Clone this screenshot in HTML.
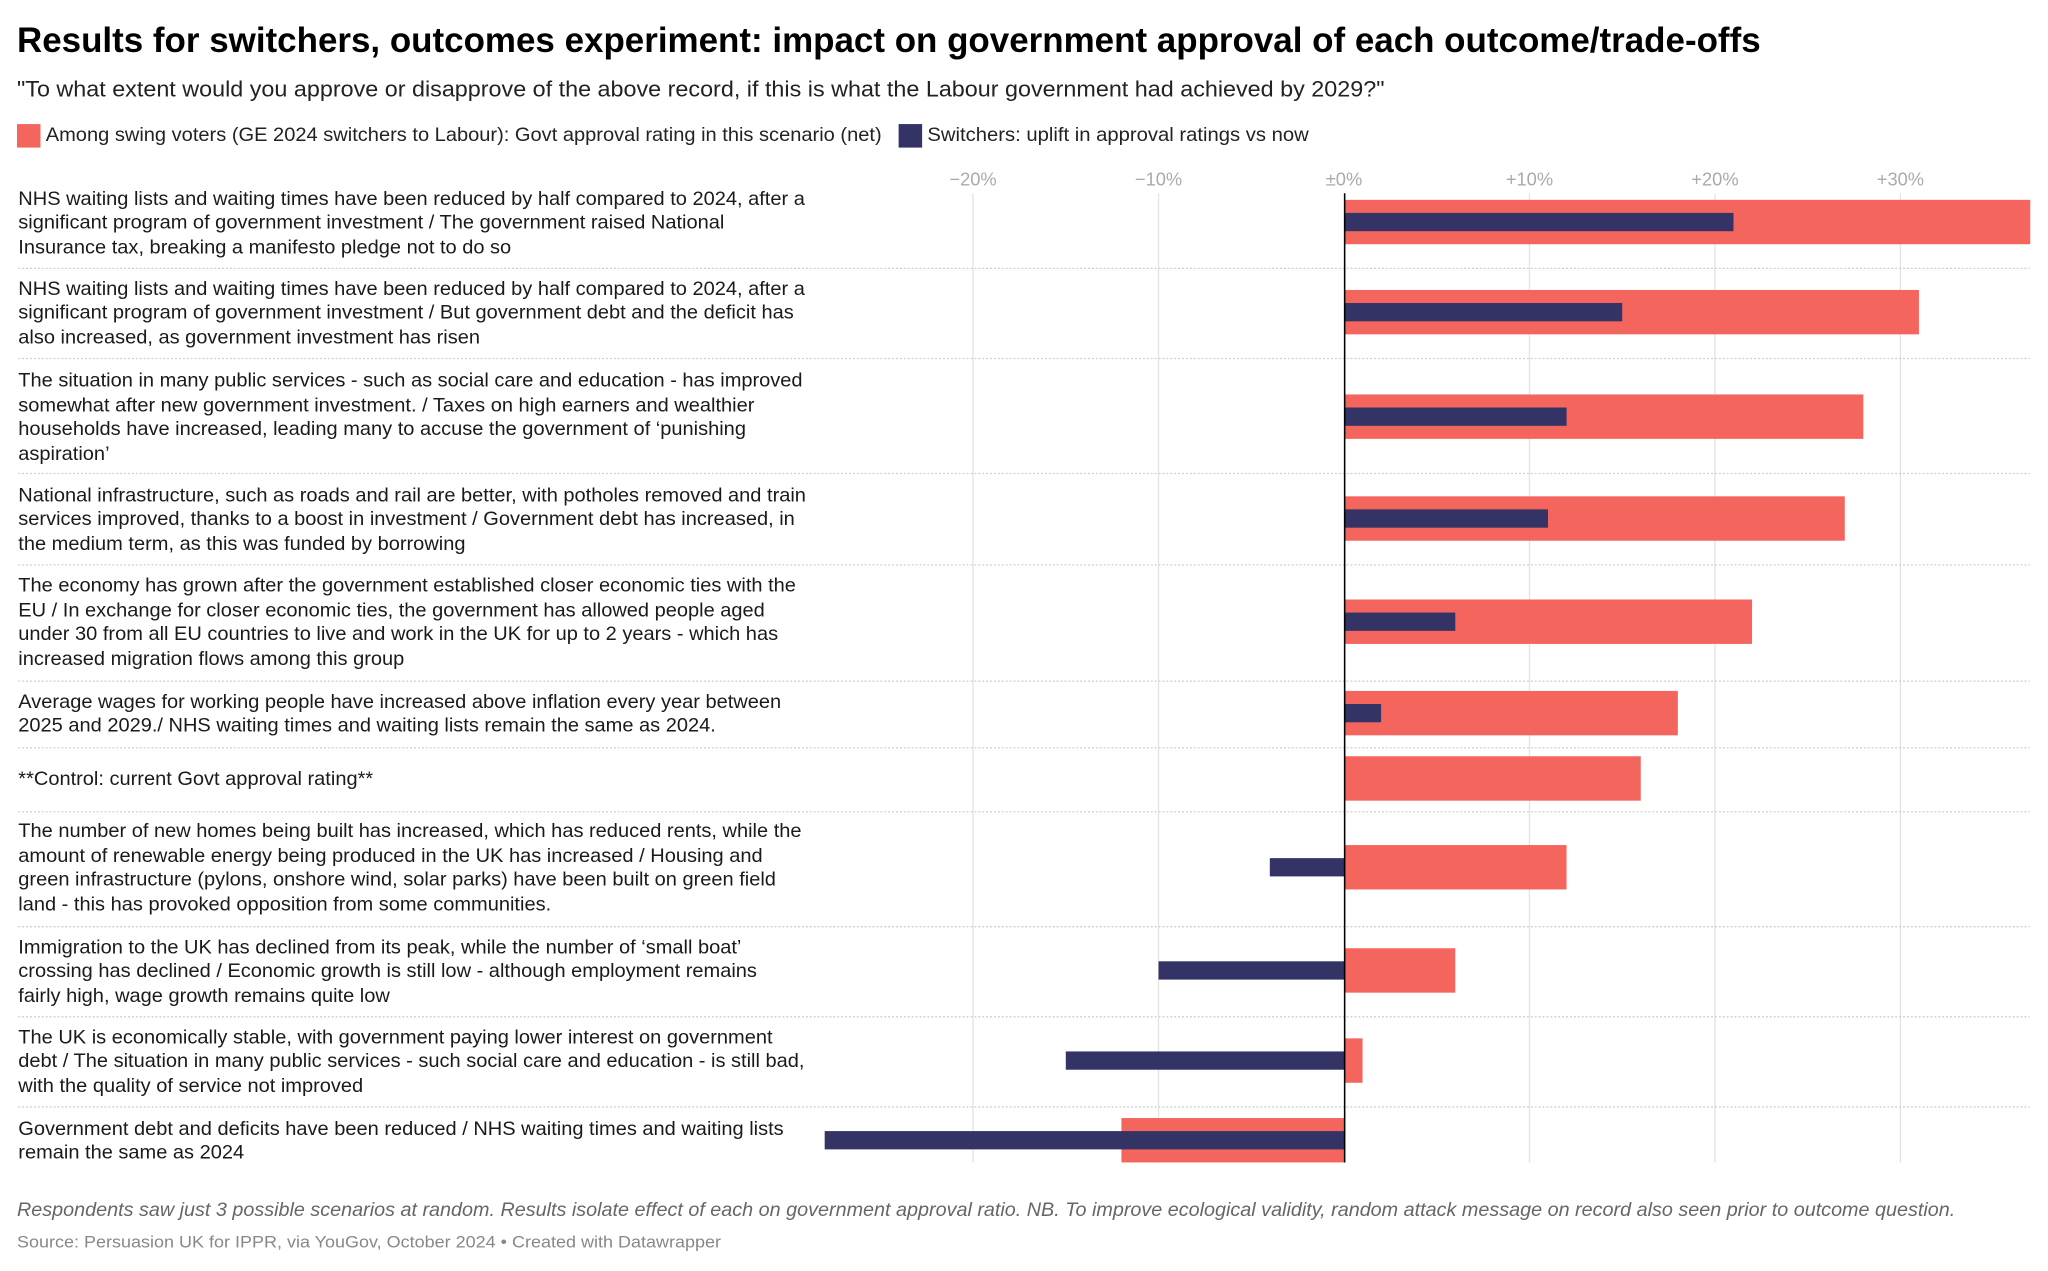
<!DOCTYPE html>
<html><head><meta charset="utf-8">
<style>
html,body{margin:0;padding:0;background:#fff;}
body{width:2048px;height:1271px;overflow:hidden;font-family:"Liberation Sans",Arial,sans-serif;}
#wrap{position:absolute;left:0;top:0;width:1568px;height:973px;transform:scale(1.306122);transform-origin:0 0;}
.abs{position:absolute;white-space:nowrap;}
.fit{transform-origin:0 50%;}
#title{left:13px;top:16px;font-size:27px;font-weight:bold;color:#000;}
#subtitle{left:13px;top:59px;font-size:17px;color:#222;}
.leg{top:95px;font-size:15px;color:#222;}
.sw{position:absolute;width:18px;height:18px;top:95px;}
.lbl{position:absolute;left:14px;font-size:14.6px;line-height:18.6px;color:#1a1a1a;white-space:nowrap;transform:scaleX(1.05);transform-origin:0 50%;}
.tick{position:absolute;top:129px;font-size:14px;color:#aaa;transform:translateX(-50%);}
#foot{left:13px;top:919px;font-size:14.5px;font-style:italic;color:#666;}
#src{left:13px;top:943px;font-size:13px;color:#888;}
</style></head>
<body>
<div id="wrap">
<div id="title" class="abs fit" data-w="1335">Results for switchers, outcomes experiment: impact on government approval of each outcome/trade-offs</div>
<div id="subtitle" class="abs fit" data-w="1047">"To what extent would you approve or disapprove of the above record, if this is what the Labour government had achieved by 2029?"</div>
<div class="sw" style="left:13px;background:#f4655d"></div>
<div class="abs leg fit" data-w="640" style="left:35px">Among swing voters (GE 2024 switchers to Labour): Govt approval rating in this scenario (net)</div>
<div class="sw" style="left:688px;background:#333366"></div>
<div class="abs leg fit" data-w="292" style="left:710px">Switchers: uplift in approval ratings vs now</div>
<svg id="plot" width="1568" height="973" style="position:absolute;left:0;top:0"></svg>
<div id="ticks"></div>
<div id="labels"></div>
<div id="foot" class="abs fit" data-w="1484">Respondents saw just 3 possible scenarios at random. Results isolate effect of each on government approval ratio. NB. To improve ecological validity, random attack message on record also seen prior to outcome question.</div>
<div id="src" class="abs fit" data-w="539">Source: Persuasion UK for IPPR, via YouGov, October 2024 • Created with Datawrapper</div>
</div>
<script>
const categories = [
"NHS waiting lists and waiting times have been reduced by half compared to 2024, after a|significant program of government investment / The government raised National|Insurance tax, breaking a manifesto pledge not to do so",
"NHS waiting lists and waiting times have been reduced by half compared to 2024, after a|significant program of government investment / But government debt and the deficit has|also increased, as government investment has risen",
"The situation in many public services - such as social care and education - has improved|somewhat after new government investment. / Taxes on high earners and wealthier|households have increased, leading many to accuse the government of ‘punishing|aspiration’",
"National infrastructure, such as roads and rail are better, with potholes removed and train|services improved, thanks to a boost in investment / Government debt has increased, in|the medium term,  as this was funded by borrowing",
"The economy has grown after the government established closer economic ties with the|EU / In exchange for closer economic ties, the government has allowed people aged|under 30 from all EU countries to live and work in the UK for up to 2 years - which has|increased migration flows among this group",
"Average wages for working people have increased above inflation every year between|2025 and 2029./ NHS waiting times and waiting lists remain the same as 2024.",
"**Control: current Govt approval rating**",
"The number of new homes being built has increased, which has reduced rents, while the|amount of renewable energy being produced in the UK has increased / Housing and|green infrastructure (pylons, onshore wind, solar parks) have been built on green field|land  - this has provoked opposition from some communities.",
"Immigration to the UK has declined from its peak, while the number of ‘small boat’|crossing has declined / Economic growth is still low - although employment remains|fairly high, wage growth remains quite low",
"The UK is economically stable, with government paying lower interest on government|debt / The situation in many public services - such social care and education - is still bad,|with the quality of service not improved",
"Government debt and deficits have been reduced / NHS waiting times and waiting lists|remain the same as 2024"
];
const approval = [37, 31, 28, 27, 22, 18, 16, 12, 6, 1, -12];
const uplift = [21, 15, 12, 11, 6, 2, null, -4, -10, -15, -28];
const tickValues = [-20, -10, 0, 10, 20, 30];
const tickLabels = ["−20%", "−10%", "±0%", "+10%", "+20%", "+30%"];

// layout
const X0 = 1029, PX = 14.2;
const x = v => X0 + v * PX;
const rowBounds = [148,205,274,362,432,521,572,621,709,778,847,890];
const rowCenters = [170,239,319,397,476,546,596,664,743,812,873];
const NS = "http://www.w3.org/2000/svg";
const svg = document.getElementById('plot');
function mk(tag, attrs){const e=document.createElementNS(NS,tag);for(const k in attrs)e.setAttribute(k,attrs[k]);svg.appendChild(e);return e;}

tickValues.forEach((t,i)=>{
  if(t!==0){
    const g=mk('line',{x1:x(t),x2:x(t),y1:148,y2:890,stroke:'#e3e3e3','stroke-width':1});
    
    
  }
  const d=document.createElement('div');
  d.className='tick';d.style.left=x(t)+'px';d.textContent=tickLabels[i];
  
  
  document.getElementById('ticks').appendChild(d);
});
for(let i=1;i<rowBounds.length-1;i++){
  const s=mk('line',{x1:14,x2:1554,y1:rowBounds[i]+0.5,y2:rowBounds[i]+0.5,stroke:'#cfcfcf','stroke-width':1,'stroke-dasharray':'1.5,1.5'});
  
  
}
categories.forEach((c,i)=>{
  const cy=rowCenters[i];
  const a=approval[i];
  const r=mk('rect',{x:Math.min(x(0),x(a)),y:cy-17,width:Math.abs(x(a)-x(0)),height:34,fill:'#f4655d'});
  
  
  const u=uplift[i];
  if(u!==null){
    const b=mk('rect',{x:Math.min(x(0),x(u)),y:cy-7,width:Math.abs(x(u)-x(0)),height:14,fill:'#333366'});
    
    
  }
  const lines=c.split('|');
  const d=document.createElement('div');
  d.className='lbl';
  d.innerHTML=lines.map(l=>l.replace(/&/g,'&amp;').replace(/</g,'&lt;')).join('<br>');
  d.style.top=(cy + 1.5 - lines.length*18.6/2)+'px';
  
  
  document.getElementById('labels').appendChild(d);
});
const z=mk('line',{x1:X0+0.5,x2:X0+0.5,y1:148,y2:890,stroke:'#000','stroke-width':1.2});



document.querySelectorAll('.fit').forEach(el=>{
  const w=+el.dataset.w, cw=el.getBoundingClientRect().width/1.306122;
  if(cw>0) el.style.transform='scaleX('+(w/cw)+')';
});
</script>
</body></html>
